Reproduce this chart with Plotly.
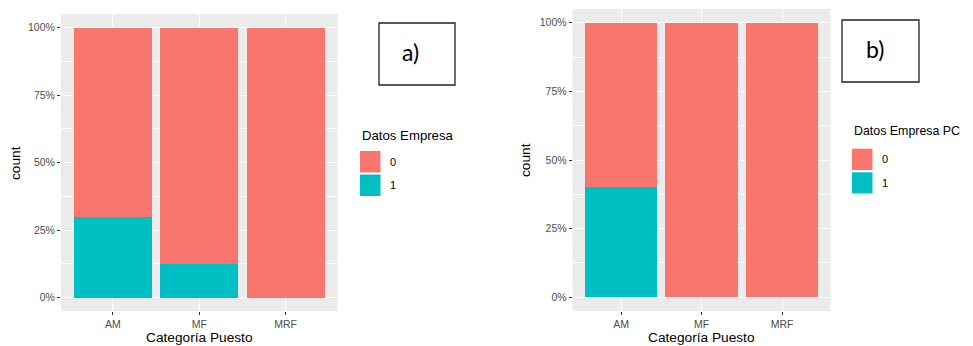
import plotly.graph_objects as go

categories = ["AM", "MF", "MRF"]
# panel a) Datos Empresa : share of each level per category
a_share_0 = [0.70, 0.875, 1.0]
a_share_1 = [0.30, 0.125, 0.0]
# panel b) Datos Empresa PC
b_share_0 = [0.60, 1.0, 1.0]
b_share_1 = [0.40, 0.0, 0.0]
y_ticks = [0, 0.25, 0.5, 0.75, 1.0]
y_tick_text = ["0%", "25%", "50%", "75%", "100%"]
legend_levels = ["0", "1"]

RED = "#F8766D"
CYAN = "#00BFC4"
OFF = 8  # default page body margin
W, H = 973 - OFF, 346 - OFF


def px(x):
    return (x - OFF) / W


def py(y):
    return 1 - (y - OFF) / H


fig = go.Figure()

# stacked: level "1" at bottom, "0" on top (ggplot position = "fill")
fig.add_trace(go.Bar(x=categories, y=a_share_1, marker_color=CYAN, width=0.9,
                     marker_line_width=0, xaxis="x", yaxis="y", showlegend=False, name="1"))
fig.add_trace(go.Bar(x=categories, y=a_share_0, marker_color=RED, width=0.9,
                     marker_line_width=0, xaxis="x", yaxis="y", showlegend=False, name="0"))
fig.add_trace(go.Bar(x=categories, y=b_share_1, marker_color=CYAN, width=0.9,
                     marker_line_width=0, xaxis="x2", yaxis="y2", showlegend=False, name="1"))
fig.add_trace(go.Bar(x=categories, y=b_share_0, marker_color=RED, width=0.9,
                     marker_line_width=0, xaxis="x2", yaxis="y2", showlegend=False, name="0"))

tickfont = dict(family="Liberation Sans, Arial, sans-serif", size=10.5, color="#4D4D4D")

xcommon = dict(type="category", range=[-0.6, 2.6], showgrid=True, gridcolor="white",
               gridwidth=1.1, ticks="outside", ticklen=3, tickcolor="#333333", tickwidth=1,
               tickfont=tickfont, zeroline=False, showline=False, automargin=False,
               fixedrange=True)
ycommon = dict(range=[-0.05, 1.05], tickvals=y_ticks, ticktext=y_tick_text,
               showgrid=True, gridcolor="white", gridwidth=1.1,
               minor=dict(tickvals=[0.125, 0.375, 0.625, 0.875], showgrid=True,
                          gridcolor="white", gridwidth=0.5, ticks=""),
               ticks="outside", ticklen=3, tickcolor="#333333", tickwidth=1,
               tickfont=tickfont, zeroline=False, showline=False, automargin=False,
               fixedrange=True)

fig.update_layout(
    width=W, height=H,
    margin=dict(l=0, r=0, t=0, b=0),
    paper_bgcolor="white",
    plot_bgcolor="#EBEBEB",
    barmode="stack",
    bargap=0.1,
    showlegend=False,
    xaxis=dict(domain=[px(61), px(337.5)], anchor="y", **xcommon),
    yaxis=dict(domain=[py(311), py(14)], anchor="x", **ycommon),
    xaxis2=dict(domain=[px(572.7), px(830.5)], anchor="y2", **xcommon),
    yaxis2=dict(domain=[py(311), py(9)], anchor="x2", **ycommon),
)

shapes = []
annotations = []
title_font = dict(family="Liberation Sans, Arial, sans-serif", size=13.7, color="black")

# axis titles
annotations.append(dict(text="Categoría Puesto", x=px(199), y=py(337.5), xref="paper", yref="paper",
                        showarrow=False, font=title_font, xanchor="center", yanchor="middle"))
annotations.append(dict(text="Categoría Puesto", x=px(701), y=py(337.5), xref="paper", yref="paper",
                        showarrow=False, font=title_font, xanchor="center", yanchor="middle"))
annotations.append(dict(text="count", x=px(15), y=py(163), xref="paper", yref="paper",
                        showarrow=False, font=title_font, textangle=-90,
                        xanchor="center", yanchor="middle"))
annotations.append(dict(text="count", x=px(525), y=py(160), xref="paper", yref="paper",
                        showarrow=False, font=title_font, textangle=-90,
                        xanchor="center", yanchor="middle"))

# legends (ggplot-style keys)
leg_lab_font = dict(family="Liberation Sans, Arial, sans-serif", size=11, color="black")


def add_legend(title, x0, ty, keys_y, tsize):
    annotations.append(dict(text=title, x=px(x0), y=py(ty), xref="paper", yref="paper",
                            showarrow=False, xanchor="left", yanchor="middle",
                            font=dict(family="Liberation Sans, Arial, sans-serif",
                                      size=tsize, color="black")))
    for lvl, col, (k0, k1) in zip(legend_levels, [RED, CYAN], keys_y):
        shapes.append(dict(type="rect", xref="paper", yref="paper",
                           x0=px(x0), x1=px(x0 + 20.5), y0=py(k1), y1=py(k0),
                           fillcolor=col, line=dict(width=0)))
        annotations.append(dict(text=lvl, x=px(x0 + 28), y=py((k0 + k1) / 2), xref="paper",
                                yref="paper", showarrow=False, font=leg_lab_font,
                                xanchor="left", yanchor="middle"))


add_legend("Datos Empresa", 360, 136, [(151, 172.5), (174.5, 196)], 13.2)
add_legend("Datos Empresa PC", 852, 131, [(148.7, 170), (172.3, 193.5)], 12.4)

# boxed panel labels
box_font = dict(family="Lato, Open Sans, sans-serif", size=23, color="black")
for (bx0, by0, bx1, by1, lab, lx, ly) in [(379, 23, 455, 85, "a)", 410, 52),
                                         (842, 20, 919, 82, "b)", 875, 49)]:
    shapes.append(dict(type="rect", xref="paper", yref="paper",
                       x0=px(bx0), x1=px(bx1), y0=py(by1), y1=py(by0),
                       fillcolor="white", line=dict(color="#222222", width=1.3)))
    annotations.append(dict(text=lab, x=px(lx), y=py(ly), xref="paper", yref="paper",
                            showarrow=False, font=box_font, xanchor="center", yanchor="middle"))

fig.update_layout(shapes=shapes, annotations=annotations)

fig.write_html("out.html")
